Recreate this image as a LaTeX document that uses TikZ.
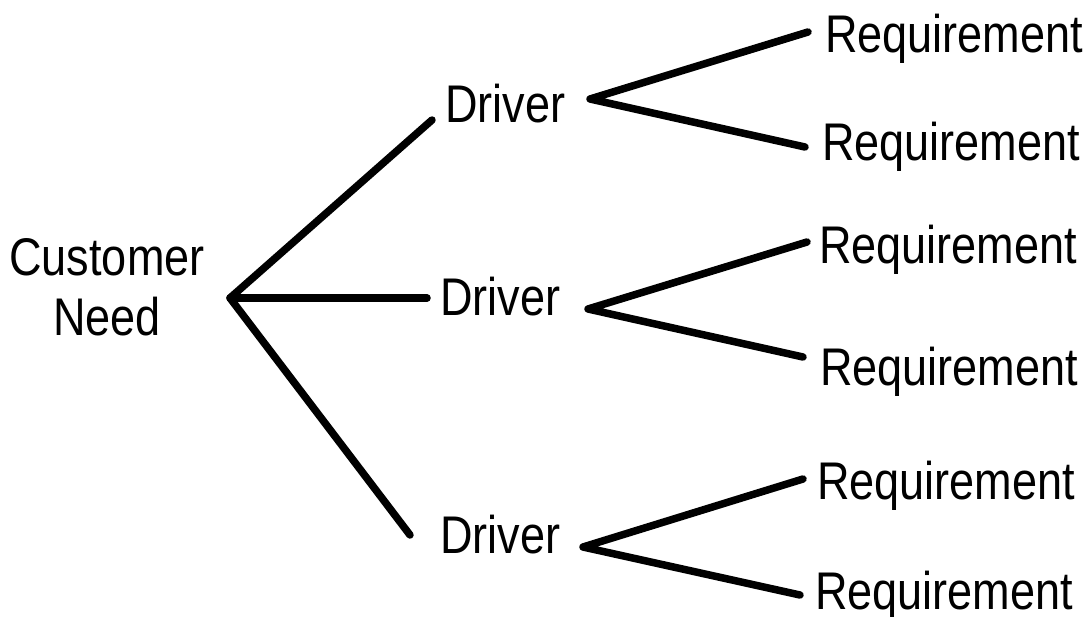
\documentclass[tikz,border=0pt]{standalone}
\usepackage{fontspec}
\setmainfont{Liberation Sans}[FakeStretch=0.85]
\tikzset{
  lbl/.style={inner sep=0pt, font=\fontsize{53}{60}\selectfont},
  branch/.style={black, line width=7.5pt, line cap=round, line join=round}
}
\begin{document}
\begin{tikzpicture}[x=1pt, y=-1pt]
\useasboundingbox (0,0) rectangle (1090,616);

\node (need) at (107, 287) [lbl, align=center] {Customer\\Need};

\node (drv1) at (445, 122) [lbl, anchor=base west] {Driver};
\node (drv2) at (440, 315) [lbl, anchor=base west] {Driver};
\node (drv3) at (440, 553) [lbl, anchor=base west] {Driver};

\node (req1) at (825, 52) [lbl, anchor=base west] {Requirement};
\node (req2) at (822, 160) [lbl, anchor=base west] {Requirement};
\node (req3) at (819, 263) [lbl, anchor=base west] {Requirement};
\node (req4) at (820, 385) [lbl, anchor=base west] {Requirement};
\node (req5) at (817, 499) [lbl, anchor=base west] {Requirement};
\node (req6) at (815, 609) [lbl, anchor=base west] {Requirement};

\coordinate (root) at (230, 298);
\coordinate (in1) at (432, 120);
\coordinate (in2) at (427, 298);
\coordinate (in3) at (410, 535);

\coordinate (fork1) at (590, 99);
\coordinate (fork2) at (588, 309);
\coordinate (fork3) at (583, 547);

\coordinate (out1) at (808, 32);
\coordinate (out2) at (805, 147);
\coordinate (out3) at (807, 242);
\coordinate (out4) at (803, 357);
\coordinate (out5) at (803, 479);
\coordinate (out6) at (800, 595);

\draw [branch] (in1) -- (root) -- (in3);
\draw [branch] (root) -- (in2);

\draw [branch] (out1) -- (fork1) -- (out2);
\draw [branch] (out3) -- (fork2) -- (out4);
\draw [branch] (out5) -- (fork3) -- (out6);
\end{tikzpicture}
\end{document}
